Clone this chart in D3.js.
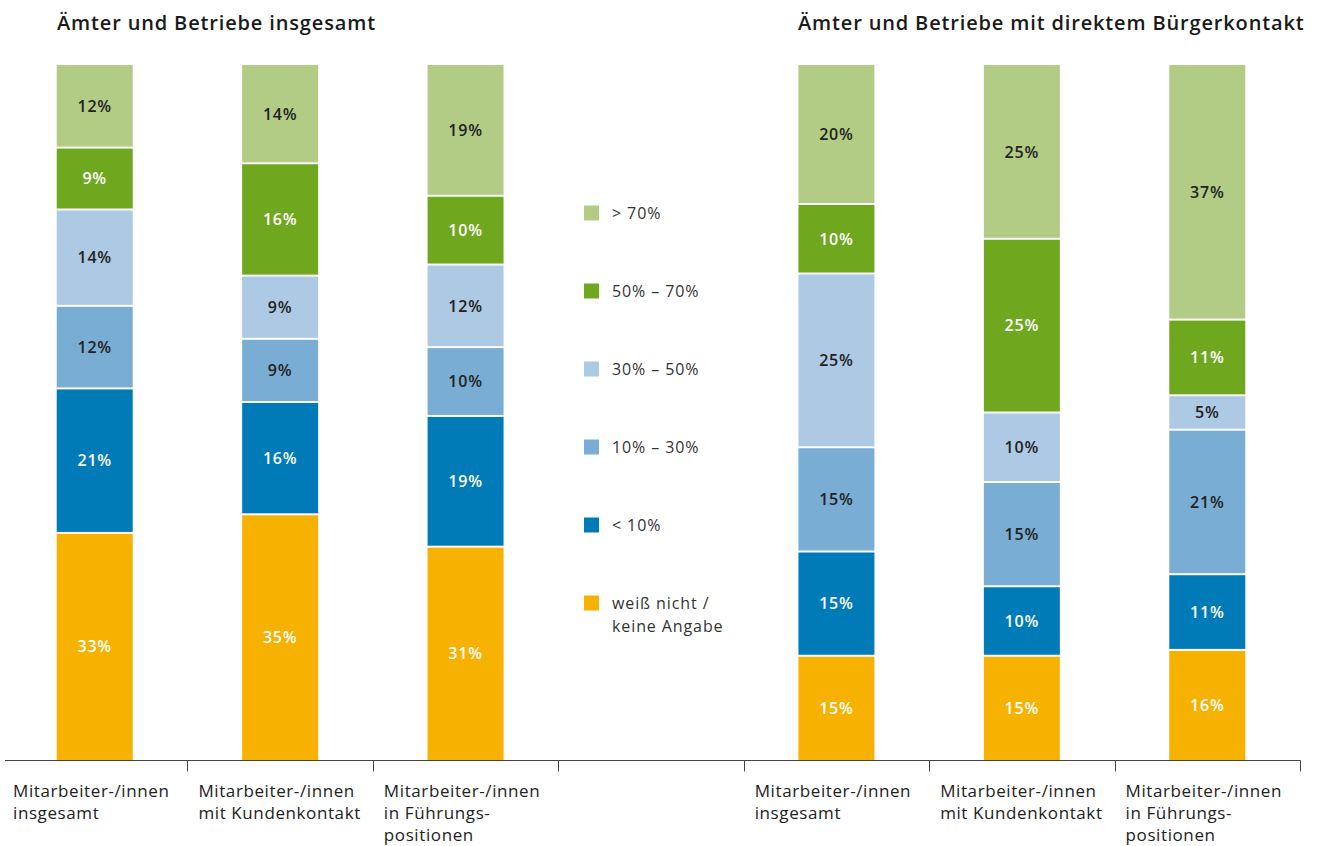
<!DOCTYPE html>
<html>
<head>
<meta charset="utf-8">
<script src="https://cdn.jsdelivr.net/npm/d3@7"></script>
<style>
  html, body { margin: 0; padding: 0; background: #fff; }
  svg { display: block; font-family: "Open Sans", "Noto Sans", sans-serif; }
</style>
</head>
<body>
<svg id="chart" width="1326" height="846"></svg>
<script>
// ---- data ----
const slots = ["L1", "L2", "L3", "gap", "R1", "R2", "R3"];
const barSlots = ["L1", "L2", "L3", "R1", "R2", "R3"];
const barLabels = [
  ["Mitarbeiter-/innen", "insgesamt"],
  ["Mitarbeiter-/innen", "mit Kundenkontakt"],
  ["Mitarbeiter-/innen", "in Führungs-", "positionen"],
  ["Mitarbeiter-/innen", "insgesamt"],
  ["Mitarbeiter-/innen", "mit Kundenkontakt"],
  ["Mitarbeiter-/innen", "in Führungs-", "positionen"]
];
const seriesKeys = ["wn", "lt10", "s10_30", "s30_50", "s50_70", "gt70"];
const seriesNames = ["weiß nicht /\nkeine Angabe", "< 10%", "10% – 30%", "30% – 50%", "50% – 70%", "> 70%"];
const wn     = [33, 35, 31, 15, 15, 16];
const lt10   = [21, 16, 19, 15, 10, 11];
const s10_30 = [12,  9, 10, 15, 15, 21];
const s30_50 = [14,  9, 12, 25, 10,  5];
const s50_70 = [ 9, 16, 10, 10, 25, 11];
const gt70   = [12, 14, 19, 20, 25, 37];
const groupTitles = ["Ämter und Betriebe insgesamt", "Ämter und Betriebe mit direktem Bürgerkontakt"];

// ---- styles ----
const colors = {
  wn: "#f7b100", lt10: "#007bb8", s10_30: "#7aadd4",
  s30_50: "#adc9e3", s50_70: "#6fa81f", gt70: "#b2cc85"
};
const labelColors = {
  wn: "#ffffff", lt10: "#ffffff", s10_30: "#222222",
  s30_50: "#222222", s50_70: "#ffffff", gt70: "#222222"
};

const table = barSlots.map((s, i) => ({
  slot: s, wn: wn[i], lt10: lt10[i], s10_30: s10_30[i],
  s30_50: s30_50[i], s50_70: s50_70[i], gt70: gt70[i]
}));

const svg = d3.select("#chart");
const x = d3.scaleBand().domain(slots).range([2, 1300]).padding(0);
const y = d3.scaleLinear().domain([0, 1]).range([760, 65]);
const barW = 76;

const stack = d3.stack().keys(seriesKeys).offset(d3.stackOffsetExpand);
const stacked = stack(table);

const gap = 2;
const layers = svg.append("g").selectAll("g").data(stacked).join("g")
  .attr("fill", d => colors[d.key]);

layers.selectAll("rect").data(d => d.map(v => ({ v, key: d.key })))
  .join("rect")
  .attr("x", d => x(d.v.data.slot) + x.bandwidth() / 2 - barW / 2)
  .attr("width", barW)
  .attr("y", d => y(d.v[1]) + (d.key === "gt70" ? 0 : gap / 2))
  .attr("height", d => {
    const top = y(d.v[1]) + (d.key === "gt70" ? 0 : gap / 2);
    const bot = y(d.v[0]) - (d.key === "wn" ? 0 : gap / 2);
    return Math.max(0, bot - top);
  });

layers.selectAll("text").data(d => d.map(v => ({ v, key: d.key })))
  .join("text")
  .attr("x", d => x(d.v.data.slot) + x.bandwidth() / 2)
  .attr("y", d => (y(d.v[0]) + y(d.v[1])) / 2)
  .attr("dy", "0.36em")
  .attr("text-anchor", "middle")
  .attr("font-size", 16)
  .attr("font-weight", 600)
  .attr("letter-spacing", 0.8)
  .attr("fill", d => labelColors[d.key])
  .text(d => d.v.data[d.key] + "%");

// axis
const axisY = 760.5;
svg.append("line").attr("x1", 5).attr("x2", 1300.5).attr("y1", axisY).attr("y2", axisY)
  .attr("stroke", "#444").attr("stroke-width", 1.2);
const tickXs = slots.map(s => x(s) + x.bandwidth());
svg.append("g").selectAll("line").data(tickXs).join("line")
  .attr("x1", d => Math.round(d) + 0.5).attr("x2", d => Math.round(d) + 0.5)
  .attr("y1", axisY).attr("y2", axisY + 11)
  .attr("stroke", "#444").attr("stroke-width", 1);

// category labels
const catG = svg.append("g").selectAll("text").data(barSlots.map((s, i) => ({ s, lines: barLabels[i] })))
  .join("text")
  .attr("font-size", 17)
  .attr("letter-spacing", 0.6)
  .attr("fill", "#222")
  .attr("x", d => x(d.s) + 11);
catG.selectAll("tspan").data(d => d.lines.map(l => ({ l, x: x(d.s) + 11 })))
  .join("tspan")
  .attr("x", d => d.x)
  .attr("y", (d, i) => 797 + i * 22)
  .text(d => d.l);

// titles
svg.append("text").attr("x", 57).attr("y", 30).attr("font-size", 20).attr("font-weight", 600)
  .attr("letter-spacing", 0.85)
  .attr("fill", "#1a1a1a").text(groupTitles[0]);
svg.append("text").attr("x", 798).attr("y", 30).attr("font-size", 20).attr("font-weight", 600)
  .attr("letter-spacing", 0.85)
  .attr("fill", "#1a1a1a").text(groupTitles[1]);

// legend
const legendOrder = seriesKeys.slice().reverse();
const lg = svg.append("g").selectAll("g").data(legendOrder).join("g")
  .attr("transform", (d, i) => `translate(584, ${213 + i * 78})`);
lg.append("rect").attr("x", 0).attr("y", -7.5).attr("width", 15).attr("height", 15)
  .attr("fill", d => colors[d]);
lg.append("text").attr("font-size", 16).attr("letter-spacing", 0.9).attr("fill", "#333")
  .selectAll("tspan").data(d => seriesNames[seriesKeys.indexOf(d)].split("\n"))
  .join("tspan").attr("x", 28).attr("y", (d, i) => i * 23).attr("dy", "0.35em")
  .text(d => d);
</script>
</body>
</html>
